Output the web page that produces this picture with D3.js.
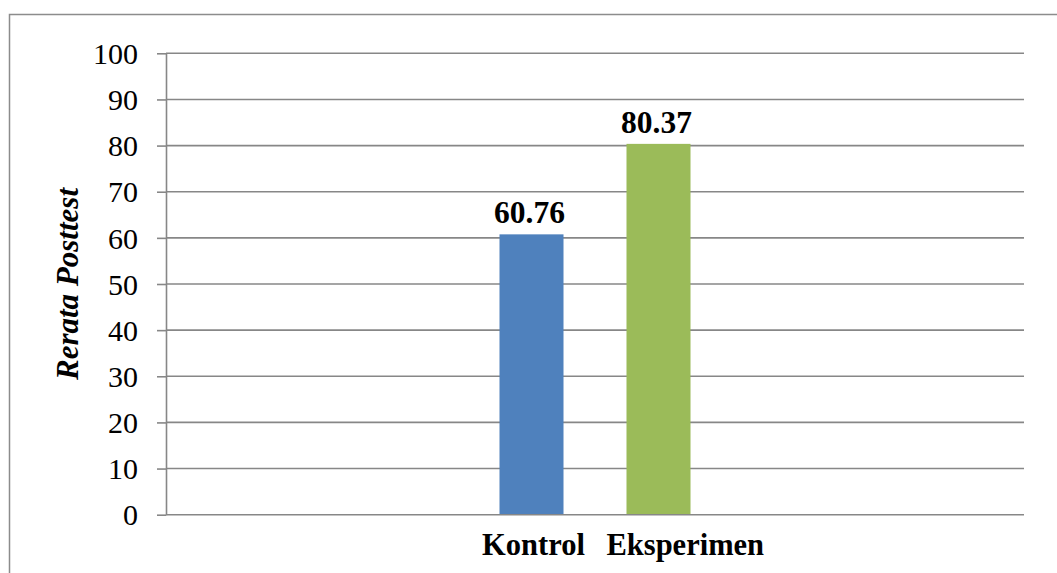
<!DOCTYPE html>
<html>
<head>
<meta charset="utf-8">
<script src="https://cdn.jsdelivr.net/npm/d3@7"></script>
<style>
  html, body { margin: 0; padding: 0; background: #fff; }
  svg { display: block; }
</style>
</head>
<body>
<svg id="chart" width="1057" height="573"></svg>
<script>
// Mean posttest scores per group
const categories = ["Kontrol", "Eksperimen"];
const values = [60.76, 80.37];
const colors = ["#4F81BD", "#9BBB59"];
const yTicks = [0, 10, 20, 30, 40, 50, 60, 70, 80, 90, 100];
const yTitle = "Rerata Posttest";

const svg = d3.select("#chart");
const W = 1057, H = 573;
const plot = { left: 166, right: 1024, top: 53.3, bottom: 514.7 };
const serif = "'Liberation Serif', 'Times New Roman', serif";
const gridColor = "#878787";

// Outer chart frame (runs off the right and bottom edges)
svg.append("rect")
  .attr("x", 9.5).attr("y", 14.5)
  .attr("width", W + 10).attr("height", H + 10)
  .attr("fill", "none").attr("stroke", "#8c8c8c").attr("stroke-width", 1.5);

const y = d3.scaleLinear().domain([0, 100]).range([plot.bottom, plot.top]);
const x = d3.scaleBand().domain(categories)
  .range([plot.left, plot.right])
  .paddingInner(0.496).paddingOuter(2.626);

// Horizontal gridlines
svg.append("g").selectAll("line").data(yTicks.filter(d => d > 0)).join("line")
  .attr("x1", plot.left).attr("x2", plot.right)
  .attr("y1", d => y(d)).attr("y2", d => y(d))
  .attr("stroke", gridColor).attr("stroke-width", 1.6);

// Y axis with outward ticks
const yAxis = d3.axisLeft(y).tickValues(yTicks).tickSize(9).tickSizeOuter(0).tickPadding(19)
  .tickFormat(d3.format("d"));
const gy = svg.append("g").attr("transform", `translate(${plot.left},0)`).call(yAxis);
gy.select(".domain").attr("stroke", gridColor).attr("stroke-width", 1.6);
gy.selectAll(".tick line").attr("stroke", gridColor).attr("stroke-width", 1.6);
gy.selectAll(".tick text")
  .attr("font-family", serif).attr("font-size", 30).attr("fill", "#000")
  .attr("dy", "0.34em");

// Bars
svg.append("g").selectAll("rect").data(categories).join("rect")
  .attr("x", d => x(d))
  .attr("width", x.bandwidth())
  .attr("y", (d, i) => y(values[i]))
  .attr("height", (d, i) => y(0) - y(values[i]))
  .attr("fill", (d, i) => colors[i]);

// X baseline
svg.append("line")
  .attr("x1", plot.left).attr("x2", plot.right)
  .attr("y1", y(0)).attr("y2", y(0))
  .attr("stroke", gridColor).attr("stroke-width", 1.6);

// Value labels
svg.append("g").selectAll("text").data(categories).join("text")
  .attr("x", d => x(d) + x.bandwidth() / 2 - 2)
  .attr("y", (d, i) => y(values[i]) - 11)
  .attr("text-anchor", "middle")
  .attr("font-family", serif).attr("font-weight", "bold").attr("font-size", 31.5)
  .attr("fill", "#000")
  .text((d, i) => values[i].toFixed(2));

// Category labels
svg.append("g").selectAll("text").data(categories).join("text")
  .attr("x", (d, i) => i === 0 ? x(d) + x.bandwidth() / 2 + 2 : x(d) - 20)
  .attr("y", 555)
  .attr("text-anchor", (d, i) => i === 0 ? "middle" : "start")
  .attr("font-family", serif).attr("font-weight", "bold").attr("font-size", 30.5)
  .attr("fill", "#000")
  .text(d => d);

// Y axis title
svg.append("text")
  .attr("transform", `translate(78, ${(plot.top + plot.bottom) / 2}) rotate(-90)`)
  .attr("text-anchor", "middle")
  .attr("font-family", serif).attr("font-weight", "bold").attr("font-style", "italic")
  .attr("font-size", 31).attr("fill", "#000")
  .text(yTitle);
</script>
</body>
</html>
